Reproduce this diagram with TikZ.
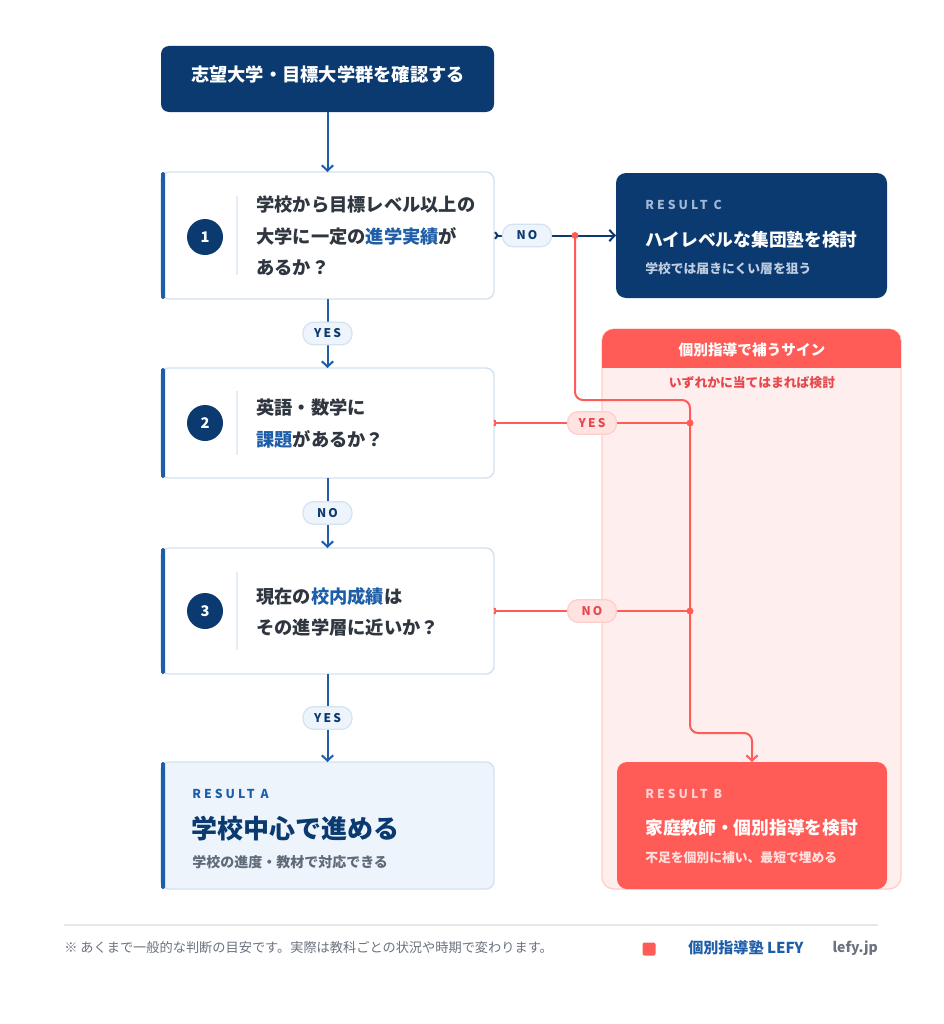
\documentclass[tikz,border=0pt]{standalone}
\usepackage{fontspec}
\setmainfont{Noto Sans CJK JP}
\usetikzlibrary{arrows.meta,calc}
\definecolor{navy}{HTML}{0B3A70}
\definecolor{accent}{HTML}{1E5EA8}
\definecolor{lborder}{HTML}{D5E2F1}
\definecolor{lfill}{HTML}{EEF4FB}
\definecolor{sepc}{HTML}{E6ECF4}
\definecolor{qtext}{HTML}{2F3640}
\definecolor{coral}{HTML}{FF5B57}
\definecolor{pinkfill}{HTML}{FFEEEE}
\definecolor{pinkborder}{HTML}{FFCDCA}
\definecolor{redtext}{HTML}{E5484D}
\definecolor{pillred}{HTML}{FFE3E1}
\definecolor{grayt}{HTML}{6B7280}
\definecolor{subgray}{HTML}{5F6B7A}
\definecolor{clabel}{HTML}{A3B8D6}
\definecolor{csub}{HTML}{BFCDE2}
\definecolor{blabel}{HTML}{FFD3D1}
\definecolor{bsub}{HTML}{FFE0DE}
\definecolor{divider}{HTML}{E5E7EB}
\newcommand\fs[2]{\fontsize{#1}{#2}\selectfont}
\newcommand\lsp{\addfontfeature{LetterSpace=25}}
\begin{document}
\begin{tikzpicture}[x=0.75pt,y=-0.75pt,
  box/.style={anchor=north west, inner sep=0pt, outer sep=0pt},
  qbox/.style={box, draw=lborder, line width=1.1pt, fill=white, rounded corners=6pt, minimum width=249.75pt},
  num/.style={circle, fill=navy, text=white, minimum size=27pt, inner sep=0pt, font=\fs{11}{11}\bfseries},
  qtxt/.style={anchor=west, align=left, inner sep=0pt, text=qtext, font=\fs{13.7}{23.6}\bfseries},
  flowarrow/.style={draw=accent, line width=1.5pt, -{Straight Barb[length=4pt,width=8.5pt]}},
  navyline/.style={draw=navy, line width=1.5pt, {Straight Barb[reversed,length=2pt,width=5pt]}-{Straight Barb[length=4pt,width=8.5pt]}},
  redline/.style={draw=coral, line width=1.5pt},
  pill/.style={rounded corners=8pt, minimum width=36.75pt, minimum height=17pt, inner sep=0pt, line width=0.9pt, font=\fs{9}{9}\bfseries\addfontfeature{LetterSpace=18}},
  bpill/.style={pill, draw=lborder, fill=lfill, text=navy},
  rpill/.style={pill, draw=pinkborder, fill=pillred, text=redtext},
  lbl/.style={anchor=west, inner sep=0pt, font=\fs{9.2}{10}\bfseries\lsp},
  sepline/.style={draw=sepc, line width=1.1pt},
  bar/.style={fill=accent, rounded corners=1.2pt}
]
\fill[white] (0,0) rectangle (943,1024);
\useasboundingbox (0,0) rectangle (943,1024);

% ---------- right panel ----------
\node[box, draw=pinkborder, fill=pinkfill, line width=1pt, rounded corners=9pt,
      minimum width=224.25pt, minimum height=420pt] (panel) at (602,329) {};
\begin{scope}
  \path[clip, rounded corners=9pt] (panel.north west) rectangle (panel.south east);
  \fill[coral] (panel.north west) rectangle ($(panel.north east)+(0,39)$);
\end{scope}
\node[inner sep=0pt, text=white, font=\fs{11}{12}\bfseries] (panelhead) at (752,350) {個別指導で補うサイン};
\node[inner sep=0pt, text=redtext, font=\fs{9.6}{10}\bfseries] (panelsub) at (752,383) {いずれかに当てはまれば検討};

% ---------- top ----------
\node[box, fill=navy, rounded corners=6pt, minimum width=249.75pt, minimum height=49.5pt] (top) at (161,46) {};
\node[inner sep=0pt, text=white, font=\fs{13.7}{15}\bfseries] (topt) at (328,75) {志望大学・目標大学群を確認する};

% ---------- question 1 ----------
\node[qbox, minimum height=95.25pt] (q1) at (161,172) {};
\fill[bar] (q1.north west) rectangle ($(q1.south west)+(4,0)$);
\node[num] (n1) at (205,237) {1};
\draw[sepline] (237,196) -- (237,275);
\node[qtxt] (q1t) at (256,236) {学校から目標レベル以上の\\大学に一定の\textcolor{accent}{進学実績}が\\あるか？};

% ---------- question 2 ----------
\node[qbox, minimum height=82.5pt] (q2) at (161,368) {};
\fill[bar] (q2.north west) rectangle ($(q2.south west)+(4,0)$);
\node[num] (n2) at (205,423) {2};
\draw[sepline] (237,391) -- (237,455);
\node[qtxt] (q2t) at (256,423.5) {英語・数学に\\\textcolor{accent}{課題}があるか？};

% ---------- question 3 ----------
\node[qbox, minimum height=94.5pt] (q3) at (161,548) {};
\fill[bar] (q3.north west) rectangle ($(q3.south west)+(4,0)$);
\node[num] (n3) at (205,611) {3};
\draw[sepline] (237,572) -- (237,650);
\node[qtxt] (q3t) at (256,612) {現在の\textcolor{accent}{校内成績}は\\その進学層に近いか？};

% ---------- result A ----------
\node[box, draw=lborder, fill=lfill, line width=1.1pt, rounded corners=6pt,
      minimum width=249.75pt, minimum height=95.25pt] (ra) at (161,762) {};
\fill[bar] (ra.north west) rectangle ($(ra.south west)+(4,0)$);
\node[lbl, text=accent] (ral) at (192,794) {RESULT A};
\node[anchor=west, inner sep=0pt, text=navy, font=\fs{19.5}{20}\bfseries] (rat) at (191,829) {学校中心で進める};
\node[anchor=west, inner sep=0pt, text=subgray, font=\fs{10.5}{11}\bfseries] (ras) at (192,862) {学校の進度・教材で対応できる};

% ---------- result C ----------
\node[box, fill=navy, rounded corners=7.5pt, minimum width=203.25pt, minimum height=93.75pt] (rc) at (616,173) {};
\node[lbl, text=clabel] (rcl) at (645,205) {RESULT C};
\node[anchor=west, inner sep=0pt, text=white, font=\fs{13.3}{14}\bfseries] (rct) at (645,240) {ハイレベルな集団塾を検討};
\node[anchor=west, inner sep=0pt, text=csub, font=\fs{9.6}{10}\bfseries] (rcs) at (645,269) {学校では届きにくい層を狙う};

% ---------- result B ----------
\node[box, fill=coral, rounded corners=7.5pt, minimum width=202.5pt, minimum height=95.25pt] (rb) at (617,762) {};
\node[lbl, text=blabel] (rbl) at (645,794) {RESULT B};
\node[anchor=west, inner sep=0pt, text=white, font=\fs{13.3}{14}\bfseries] (rbt) at (645,828) {家庭教師・個別指導を検討};
\node[anchor=west, inner sep=0pt, text=bsub, font=\fs{9.6}{10}\bfseries] (rbs) at (645,858) {不足を個別に補い、最短で埋める};

% ---------- coordinates ----------
\coordinate (jc) at (575,235.5);
\coordinate (rtop) at (690,400);
\coordinate (y2) at (690,423);
\coordinate (y3) at (690,611);
\coordinate (rbend) at (690,733);

% ---------- red connectors ----------
\draw[redline, rounded corners=6pt, -{Straight Barb[length=4pt,width=8.5pt]}] (jc) |- (rtop) -- (rbend) -| (rb.north);
\draw[redline, {Arc Barb[reversed,length=1.8pt,width=5.5pt]}-] (q2.east) -- node[rpill, pos=0.5] (p2) {YES} (y2);
\draw[redline, {Arc Barb[reversed,length=1.8pt,width=5.5pt]}-] (q3.east) -- node[rpill, pos=0.5] (p3) {NO} (y3);
\fill[coral] (y2) circle (2.6pt);
\fill[coral] (y3) circle (2.6pt);

% ---------- blue connectors ----------
\draw[flowarrow] (top) -- (q1);
\draw[flowarrow] (q1) -- node[bpill] (p1) {YES} (q2);
\draw[flowarrow] (q2) -- node[bpill] (pq2) {NO} (q3);
\draw[flowarrow] (q3) -- node[bpill] (pq3) {YES} (ra);
\draw[navyline] (q1.east) -- node[bpill, pos=0.27] (pno) {NO} (rc.west);
\fill[coral] (jc) circle (2.6pt);

% ---------- footer ----------
\draw[divider, line width=1pt] (64,925) -- (878,925);
\node[anchor=west, inner sep=0pt, text=grayt, font=\fs{9.9}{10}] (note) at (64,948) {※ あくまで一般的な判断の目安です。実際は教科ごとの状況や時期で変わります。};
\node[fill=coral, rounded corners=1.5pt, minimum size=9.75pt, inner sep=0pt] (logo) at (649,949) {};
\node[anchor=west, inner sep=0pt, text=accent, font=\fs{11.3}{12}\bfseries] (brand) at (688,948) {個別指導塾 LEFY};
\node[anchor=east, inner sep=0pt, text=grayt, font=\fs{10.5}{11}\bfseries] (url) at (878,948) {lefy.jp};
\end{tikzpicture}
\end{document}
